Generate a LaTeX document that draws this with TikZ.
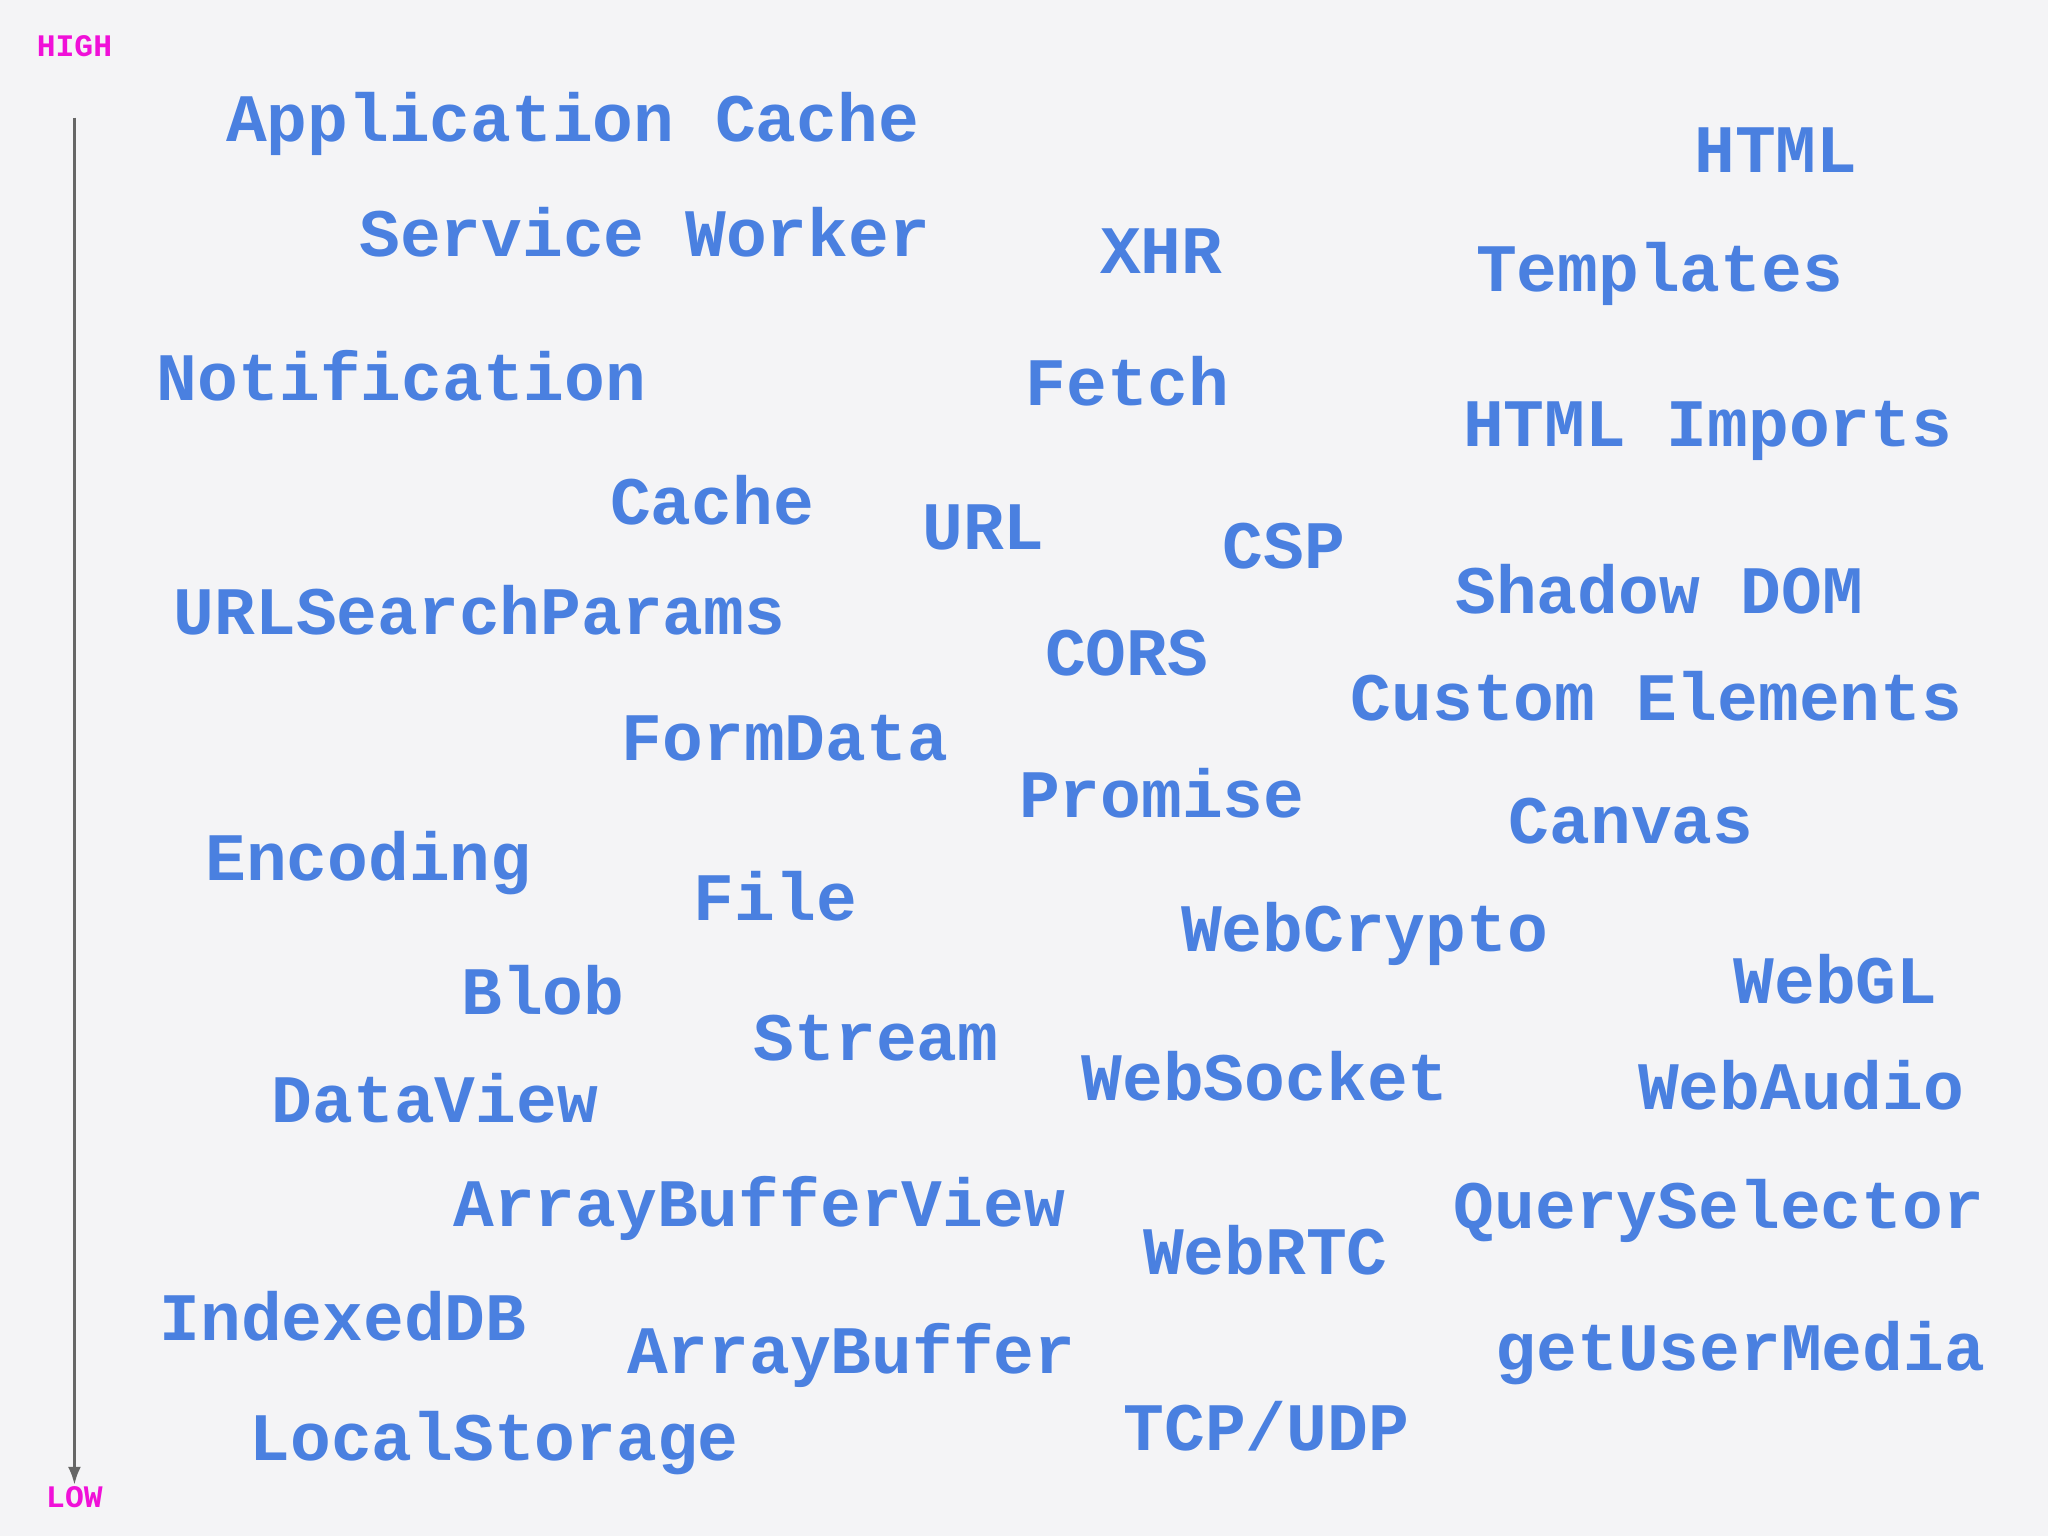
\documentclass[tikz,border=0pt]{standalone}
\usepackage{fontspec}
\usetikzlibrary{arrows.meta}
\setmonofont{Liberation Mono}
\definecolor{bg}{HTML}{F4F4F6}
\definecolor{wb}{HTML}{4A80E0}
\definecolor{mg}{HTML}{F010D8}
\begin{document}
\begin{tikzpicture}[x=1pt,y=-1pt,
  w/.style={anchor=west,inner sep=0pt,text=wb,font=\ttfamily\bfseries\fontsize{52}{52}\selectfont},
  lab/.style={inner sep=0pt,text=mg,font=\ttfamily\bfseries\fontsize{24}{24}\selectfont}]
\fill[bg] (0,0) rectangle (1568,1176);
\useasboundingbox (0,0) rectangle (1568,1176);
\node[lab] (hi) at (57,35) {HIGH};
\node[lab] (lo) at (57,1146) {LOW};
\coordinate (a0) at (57,90);
\coordinate (a1) at (57,1137);
\draw[line width=2.5pt,color=black!60,-{Latex[length=14pt,width=10pt]}] (a0) -- (a1);
\foreach \x/\y/\t/\n in {
173/95/Application Cache/n1, 275/178/Service Worker/n2, 842/192/XHR/n3,
1297/115/HTML/n4, 1130/210/Templates/n5, 120/288/Notification/n6,
785/292/Fetch/n7, 1120/330/HTML Imports/n8, 467/383/Cache/n9,
706/404/URL/n10, 936/418/CSP/n11, 133/467/URLSearchParams/n12,
1114/451/Shadow DOM/n13, 800/500/CORS/n14, 1034/533/Custom Elements/n15,
476/565/FormData/n16, 780/607/Promise/n17, 1155/629/Canvas/n18,
157/661/Encoding/n19, 531/686/File/n20, 904/715/WebCrypto/n21,
1327/750/WebGL/n22, 353/758/Blob/n23, 577/795/Stream/n24,
828/824/WebSocket/n25, 1254/831/WebAudio/n26, 208/841/DataView/n27,
347/925/ArrayBufferView/n28, 1113/927/QuerySelector/n29, 875/957/WebRTC/n30,
122/1008/IndexedDB/n31, 480/1038/ArrayBuffer/n32, 1145/1036/getUserMedia/n33,
191/1105/LocalStorage/n35}
  \node[w] (\n) at (\x,\y) {\t};
\node[w] (n34) at (860,1092) {TCP/UDP};
\end{tikzpicture}
\end{document}
